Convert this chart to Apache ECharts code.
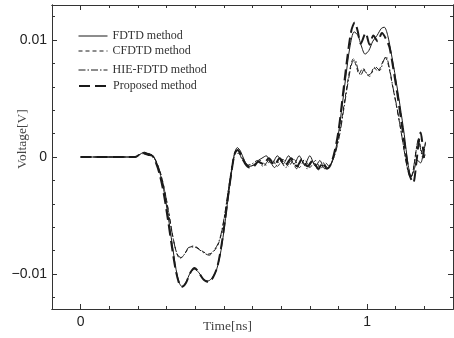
<!DOCTYPE html>
<html>
<head>
<meta charset="utf-8">
<script src="https://cdn.jsdelivr.net/npm/echarts@6/dist/echarts.min.js"></script>
<style>
  html, body { margin: 0; padding: 0; background: #fff; }
  #chart { width: 454px; height: 338px; }
</style>
</head>
<body>
<div id="chart"></div>
<script>
// time [ns], voltage [V]
const fdtd = [
  [0, 0], [0.1, 0], [0.19, 0], [0.205, 0.0002], [0.222, 0.0004], [0.235, 0.0003], [0.248, 0.0002],
  [0.26, -0.0002], [0.275, -0.0012], [0.29, -0.0028], [0.305, -0.005], [0.32, -0.0075], [0.333, -0.0096],
  [0.345, -0.0108], [0.355, -0.0111], [0.368, -0.0107], [0.383, -0.0099], [0.398, -0.0096], [0.413, -0.0099],
  [0.43, -0.0105], [0.445, -0.0106], [0.46, -0.0103], [0.475, -0.0096], [0.49, -0.008], [0.503, -0.0058],
  [0.515, -0.0035], [0.527, -0.0013], [0.537, 0.0003], [0.547, 0.0008], [0.558, 0.0005], [0.572, -0.0003],
  [0.588, -0.0008], [0.603, -0.0007], [0.62, -0.0003], [0.633, -0.0001], [0.648, 0.0001], [0.667, -0.0006],
  [0.687, 0.0001], [0.707, -0.0006], [0.726, 0.0001], [0.745, -0.0006], [0.763, 0.0001], [0.782, -0.0007],
  [0.8, 0.0001], [0.82, -0.0008], [0.835, -0.0003], [0.852, -0.001], [0.866, -0.0009], [0.88, -0.0002],
  [0.895, 0.0012], [0.91, 0.0038], [0.925, 0.0067], [0.94, 0.0094], [0.955, 0.0107], [0.968, 0.0104],
  [0.98, 0.0095], [0.993, 0.0088], [1.006, 0.0091], [1.02, 0.0099], [1.035, 0.0104], [1.05, 0.011],
  [1.06, 0.0111], [1.072, 0.0104], [1.085, 0.0088], [1.1, 0.0067], [1.115, 0.0044], [1.13, 0.0019],
  [1.143, -0.0006], [1.154, -0.0017], [1.164, -0.0011], [1.176, -0.0003], [1.187, -0.0005], [1.196, 0.0003],
  [1.204, 0.0012]
]
const cfdtd = [
  [0, 0], [0.19, 0], [0.205, 0.0002], [0.222, 0.0004], [0.237, 0.0003], [0.25, 0.0001], [0.262, -0.0003],
  [0.278, -0.0013], [0.293, -0.0028], [0.308, -0.0048], [0.322, -0.0068], [0.335, -0.0082], [0.347, -0.0087],
  [0.36, -0.0084], [0.377, -0.0078], [0.395, -0.0076], [0.41, -0.0078], [0.428, -0.0081], [0.447, -0.0083],
  [0.463, -0.0081], [0.478, -0.0076], [0.49, -0.0067], [0.503, -0.005], [0.515, -0.003], [0.527, -0.001],
  [0.538, 0.0003], [0.548, 0.0005], [0.56, 0.0001], [0.575, -0.0005], [0.592, -0.0008], [0.61, -0.0006],
  [0.628, -0.0003], [0.648, -0.0007], [0.667, -0.0002], [0.687, -0.0008], [0.706, -0.0002], [0.726, -0.0008],
  [0.745, -0.0002], [0.764, -0.0009], [0.782, -0.0002], [0.8, -0.0009], [0.82, -0.0003], [0.838, -0.001],
  [0.855, -0.0005], [0.868, -0.0008], [0.88, -0.0003], [0.895, 0.001], [0.91, 0.003], [0.925, 0.0053],
  [0.94, 0.0075], [0.952, 0.0084], [0.962, 0.0078], [0.972, 0.0071], [0.985, 0.0076], [0.998, 0.0071],
  [1.01, 0.0069], [1.024, 0.0077], [1.038, 0.0073], [1.052, 0.008], [1.064, 0.0085], [1.076, 0.0077],
  [1.088, 0.0062], [1.1, 0.0047], [1.115, 0.0027], [1.13, 0.0005], [1.143, -0.0012], [1.152, -0.0018],
  [1.162, -0.001], [1.172, 0.0007], [1.18, 0.0015], [1.187, 0.0007], [1.195, 0.0002], [1.204, 0.0013]
]
const hieFdtd = [
  [0, 0], [0.19, 0], [0.205, 0.0002], [0.222, 0.0003], [0.238, 0.0003], [0.252, 0.0001], [0.264, -0.0004],
  [0.28, -0.0015], [0.295, -0.0031], [0.31, -0.0052], [0.324, -0.0071], [0.337, -0.0083], [0.35, -0.0086],
  [0.363, -0.0083], [0.38, -0.0077], [0.398, -0.0077], [0.413, -0.0079], [0.43, -0.0082], [0.449, -0.0084],
  [0.465, -0.008], [0.48, -0.0074], [0.492, -0.0064], [0.505, -0.0046], [0.517, -0.0026], [0.53, -0.0007],
  [0.542, 0.0003], [0.552, 0.0003], [0.565, -0.0003], [0.58, -0.0007], [0.598, -0.0006], [0.617, -0.0003],
  [0.637, -0.0008], [0.657, -0.0003], [0.677, -0.0009], [0.696, -0.0003], [0.716, -0.0009], [0.735, -0.0003],
  [0.754, -0.001], [0.772, -0.0003], [0.791, -0.001], [0.81, -0.0004], [0.83, -0.0011], [0.847, -0.0005],
  [0.862, -0.0009], [0.876, -0.0005], [0.89, 0.0004], [0.905, 0.002], [0.92, 0.0043], [0.935, 0.0066],
  [0.948, 0.0081], [0.958, 0.0083], [0.968, 0.0075], [0.978, 0.007], [0.99, 0.0075], [1.003, 0.007],
  [1.016, 0.0072], [1.03, 0.0077], [1.044, 0.0074], [1.057, 0.0082], [1.066, 0.0086], [1.078, 0.0076],
  [1.09, 0.006], [1.103, 0.0044], [1.118, 0.0023], [1.132, 0.0002], [1.145, -0.0014], [1.155, -0.0016],
  [1.165, -0.0005], [1.174, 0.001], [1.18, 0.0016], [1.188, 0.0005], [1.196, -0.0001], [1.203, 0.0002]
]
const proposed = [
  [0, 0], [0.19, 0], [0.205, 0.0002], [0.22, 0.0003], [0.235, 0.0002], [0.25, 0.0001], [0.26, -0.0003],
  [0.275, -0.0014], [0.29, -0.0031], [0.305, -0.0054], [0.32, -0.0079], [0.333, -0.0098], [0.345, -0.0109],
  [0.353, -0.0111], [0.367, -0.0108], [0.383, -0.0099], [0.398, -0.0095], [0.413, -0.0099], [0.43, -0.0105],
  [0.447, -0.0107], [0.462, -0.0103], [0.477, -0.0094], [0.49, -0.0078], [0.503, -0.0056], [0.515, -0.0033],
  [0.527, -0.0012], [0.538, 0.0003], [0.548, 0.0006], [0.56, 0.0002], [0.575, -0.0006], [0.59, -0.0009],
  [0.605, -0.0008], [0.62, -0.0004], [0.638, -0.0006], [0.657, -0.0001], [0.676, -0.0007], [0.695, -0.0001],
  [0.715, -0.0007], [0.735, -0.0001], [0.755, -0.0008], [0.773, -0.0002], [0.792, -0.0008], [0.81, -0.0003],
  [0.83, -0.001], [0.845, -0.0005], [0.86, -0.001], [0.872, -0.0007], [0.885, 0.0003], [0.9, 0.0022],
  [0.915, 0.0052], [0.93, 0.0083], [0.945, 0.0108], [0.957, 0.0115], [0.967, 0.0108], [0.978, 0.0097],
  [0.995, 0.0106], [1.009, 0.0096], [1.022, 0.0104], [1.037, 0.0099], [1.052, 0.0106], [1.066, 0.0101],
  [1.078, 0.0094], [1.09, 0.0078], [1.105, 0.0055], [1.12, 0.003], [1.135, 0.0004], [1.148, -0.0015],
  [1.161, -0.0022], [1.172, -0.0005], [1.18, 0.0012], [1.187, 0.0021], [1.193, 0.0012], [1.2, -0.0003]
]

const seriesNames = ["FDTD method", "CFDTD method", "HIE-FDTD method", "Proposed method"]
const xMajor = [0, 1]
const xMinor = [0.1, 0.2, 0.3, 0.4, 0.5, 0.6, 0.7, 0.8, 0.9, 1.1, 1.2]
const yMajor = [-0.01, 0, 0.01]
const yMinor = [-0.012, -0.008, -0.006, -0.004, -0.002, 0.002, 0.004, 0.006, 0.008, 0.012]

const ink = "#1a1a1a"
const frame = "#333"
const serif = "'Liberation Serif', 'DejaVu Serif', serif"
const sans = "'Liberation Sans', Arial, sans-serif"

const chart = echarts.init(document.getElementById("chart"))

// one axis per side & per tick kind, so major/minor ticks can have different length
function xAxis(pos, ticks, len, withLabels) {
  return {
    type: "value", min: -0.1, max: 1.3, position: pos,
    axisLine: { show: true, onZero: false, lineStyle: { color: frame, width: 1 } },
    axisTick: { show: true, inside: true, length: len, customValues: ticks, lineStyle: { color: frame } },
    axisLabel: withLabels
      ? { show: true, customValues: ticks, margin: 6, fontFamily: sans, fontSize: 14, color: "#222",
          formatter: (v) => String(Math.round(v)) }
      : { show: false },
    splitLine: { show: false },
  }
}
function yAxis(pos, ticks, len, withLabels) {
  return {
    type: "value", min: -0.013, max: 0.013, position: pos,
    axisLine: { show: true, onZero: false, lineStyle: { color: frame, width: 1 } },
    axisTick: { show: true, inside: true, length: len, customValues: ticks, lineStyle: { color: frame } },
    axisLabel: withLabels
      ? { show: true, customValues: ticks, margin: 5, fontFamily: sans, fontSize: 14, color: "#222",
          formatter: (v) => (v < 0 ? "\u2212" + Math.abs(v) : String(v)) }
      : { show: false },
    splitLine: { show: false },
  }
}

function legendAt(name, top, lineWidth) {
  return {
    data: [name], left: 78, top: top, padding: 0, orient: "vertical",
    itemWidth: 29, itemHeight: 10, selectedMode: false,
    itemStyle: { opacity: 0 },
    lineStyle: { width: lineWidth },
    textStyle: { fontFamily: serif, fontSize: 12, color: "#333" },
  }
}

function lineSeries(name, data, width, dash, z) {
  return {
    name: name, type: "line", data: data, xAxisIndex: 0, yAxisIndex: 0,
    symbol: "none", smooth: 0.3, z: z, color: ink,
    lineStyle: { color: ink, width: width, type: dash },
  }
}

chart.setOption({
  animation: false,
  backgroundColor: "#fff",
  grid: { left: 52, right: 1, top: 5, bottom: 29, containLabel: false },
  xAxis: [
    xAxis("bottom", xMajor, 5, true),
    xAxis("bottom", xMinor, 3, false),
    xAxis("top", xMajor, 5, false),
    xAxis("top", xMinor, 3, false),
  ],
  yAxis: [
    yAxis("left", yMajor, 5, true),
    yAxis("left", yMinor, 3, false),
    yAxis("right", yMajor, 5, false),
    yAxis("right", yMinor, 3, false),
  ],
  legend: [
    legendAt(seriesNames[0], 30, 1),
    legendAt(seriesNames[1], 45, 1),
    legendAt(seriesNames[2], 64, 1),
    legendAt(seriesNames[3], 80, 2),
  ],
  graphic: [
    { type: "text", left: 203, top: 319,
      style: { text: "Time[ns]", font: "13.5px " + serif, fill: "#444" } },
    { type: "text", x: 15, y: 169, rotation: Math.PI / 2,
      style: { text: "Voltage[V]", font: "13.5px " + serif, fill: "#444" } },
  ],
  series: [
    lineSeries(seriesNames[0], fdtd, 1, "solid", 2),
    lineSeries(seriesNames[1], cfdtd, 1, [4, 3], 3),
    lineSeries(seriesNames[2], hieFdtd, 1, [7, 2, 1.5, 2], 4),
    lineSeries(seriesNames[3], proposed, 2, [11, 5], 5),
  ],
})
</script>
</body>
</html>
